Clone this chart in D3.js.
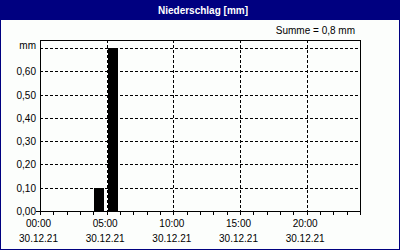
<!DOCTYPE html>
<html lang="de">
<head>
  <meta charset="UTF-8">
  <title>Niederschlag</title>
  <script src="https://d3js.org/d3.v7.min.js"></script>
  <style>
    body { margin: 0; background: #fff; }
    svg { display: block; }
    text { font-family: "Liberation Sans", Arial, sans-serif; font-size: 10px; fill: #000; }
    .title { font-weight: bold; fill: #fff; }
    .grid { stroke: #000; stroke-dasharray: 3,2; shape-rendering: crispEdges; }
  </style>
</head>
<body>
  <svg width="400" height="250"></svg>
  <script>
    // hourly precipitation on 30.12.21 (mm)
    const hours = [0, 1, 2, 3, 4, 5, 6, 7, 8, 9, 10, 11, 12, 13, 14, 15, 16, 17, 18, 19, 20, 21, 22, 23];
    const precip = [0, 0, 0, 0, 0.1, 0.7, 0, 0, 0, 0, 0, 0, 0, 0, 0, 0, 0, 0, 0, 0, 0, 0, 0, 0];
    const xTicks = [0, 5, 10, 15, 20];
    const xTickLabels = ["00:00", "05:00", "10:00", "15:00", "20:00"];
    const dateLabel = "30.12.21";
    const yTicks = [0, 0.1, 0.2, 0.3, 0.4, 0.5, 0.6, 0.7];
    const yTickLabels = ["0,00", "0,10", "0,20", "0,30", "0,40", "0,50", "0,60", "mm"];
    const sumLabel = "Summe = 0,8 mm";

    const W = 400, H = 250;
    const pLeft = 40, pRight = 360, pTop = 40, pBottom = 211;

    const svg = d3.select("svg");

    svg.append("rect").attr("width", W).attr("height", H).attr("fill", "#fcfefc");

    // title bar
    svg.append("rect").attr("width", W).attr("height", 20).attr("fill", "#000080");
    svg.append("text").attr("class", "title")
      .attr("x", 203).attr("y", 14).attr("text-anchor", "middle")
      .text("Niederschlag [mm]");

    // outer border
    svg.append("rect")
      .attr("x", 0.5).attr("y", 0.5).attr("width", W - 1).attr("height", H - 1)
      .attr("fill", "none").attr("stroke", "#000080");

    const x = d3.scaleLinear().domain([0, 24]).range([pLeft, pRight]);
    const y = d3.scaleLinear().domain([0, 0.734]).range([pBottom, pTop]);

    // gridlines
    svg.append("g").selectAll("line")
      .data(yTicks.filter(d => d > 0))
      .join("line").attr("class", "grid")
      .attr("x1", pLeft).attr("x2", pRight)
      .attr("y1", d => Math.round(y(d)) + 0.5).attr("y2", d => Math.round(y(d)) + 0.5);

    svg.append("g").selectAll("line")
      .data(xTicks.filter(d => d > 0))
      .join("line").attr("class", "grid")
      .attr("x1", d => Math.round(x(d)) + 0.5).attr("x2", d => Math.round(x(d)) + 0.5)
      .attr("y1", pTop).attr("y2", pBottom);

    // bars
    svg.append("g").selectAll("rect")
      .data(hours.map((h, i) => ({ h, v: precip[i] })).filter(d => d.v > 0))
      .join("rect")
      .attr("x", d => Math.round(x(d.h)) + 1)
      .attr("width", d => Math.round(x(d.h + 0.75) - x(d.h)))
      .attr("y", d => Math.round(y(d.v)))
      .attr("height", d => pBottom - Math.round(y(d.v)) + 1)
      .attr("fill", "#000");

    // frame
    svg.append("rect")
      .attr("x", pLeft + 0.5).attr("y", pTop + 0.5)
      .attr("width", pRight - pLeft).attr("height", pBottom - pTop)
      .attr("fill", "none").attr("stroke", "#000");
    svg.append("line")
      .attr("x1", pLeft - 4).attr("x2", pLeft).attr("y1", pBottom + 0.5).attr("y2", pBottom + 0.5)
      .attr("stroke", "#000");

    // hourly ticks
    const ticks = hours.concat([24]);
    svg.append("g").selectAll("line")
      .data(ticks).join("line")
      .attr("x1", d => Math.round(x(d)) + 0.5).attr("x2", d => Math.round(x(d)) + 0.5)
      .attr("y1", pBottom).attr("y2", pBottom + 4)
      .attr("stroke", "#000");

    // y labels
    svg.append("g").selectAll("text")
      .data(yTicks).join("text")
      .attr("x", 36)
      .attr("y", (d, i) => y(d) + (i === yTicks.length - 1 ? 1 : 4))
      .attr("text-anchor", "end")
      .text((d, i) => yTickLabels[i]);

    // x labels
    const xl = svg.append("g").selectAll("g")
      .data(xTicks).join("g")
      .attr("transform", d => `translate(${x(d) - 1.5},0)`);
    xl.append("text").attr("y", 227).attr("text-anchor", "middle").text((d, i) => xTickLabels[i]);
    xl.append("text").attr("y", 242).attr("text-anchor", "middle").text(dateLabel);

    svg.append("text")
      .attr("x", 355).attr("y", 34).attr("text-anchor", "end")
      .text(sumLabel);
  </script>
</body>
</html>
